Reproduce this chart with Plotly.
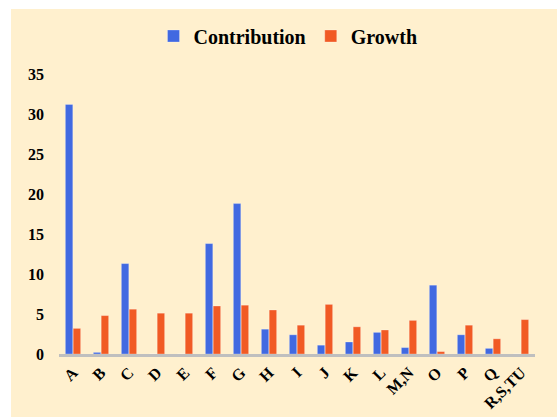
import plotly.graph_objects as go

categories = ["A", "B", "C", "D", "E", "F", "G", "H", "I", "J", "K", "L",
              "M,N", "O", "P", "Q", "R,S,TU"]
contribution = [31.2, 0.2, 11.3, 0.0, 0.0, 13.8, 18.8, 3.1, 2.4, 1.1, 1.5,
                2.7, 0.8, 8.6, 2.4, 0.7, 0.0]
growth = [3.2, 4.8, 5.6, 5.1, 5.1, 6.0, 6.1, 5.5, 3.6, 6.2, 3.4, 3.0,
          4.2, 0.3, 3.6, 1.9, 4.3]
y_ticks = [0, 5, 10, 15, 20, 25, 30, 35]

BLUE = "#4169E1"
ORANGE = "#F15A24"
BG = "#FFF0CE"
FONT = "Liberation Serif"

fig = go.Figure()
fig.add_trace(go.Bar(x=categories, y=contribution, name="Contribution",
                     marker=dict(color=BLUE, line=dict(color="rgba(255,255,255,0.35)", width=0.8))))
fig.add_trace(go.Bar(x=categories, y=growth, name="Growth",
                     marker=dict(color=ORANGE, line=dict(color="rgba(255,255,255,0.35)", width=0.8))))

W, H = 557, 417
ml, mr, mt, mb = 59, 22, 74, 63
pw = W - ml - mr
ph = H - mt - mb

fig.add_shape(type="rect", xref="paper", yref="paper",
              x0=(11 - ml) / pw, x1=(W - ml) / pw + 0.05,
              y0=-(mb + 20) / ph, y1=(H - mb - 9) / ph,
              fillcolor=BG, line=dict(width=0), layer="below")

fig.update_layout(
    width=W, height=H,
    margin=dict(l=ml, r=mr, t=mt, b=mb, autoexpand=False),
    paper_bgcolor="white",
    plot_bgcolor="rgba(0,0,0,0)",
    barmode="group",
    bargap=0.44,
    bargroupgap=0.05,
    font=dict(family=FONT, color="black"),
    legend=dict(orientation="h", x=0.5 - 9 / pw, xanchor="center", y=1.0 + (mt - 36) / ph,
                yanchor="middle", font=dict(size=20, family=FONT, weight="bold"),
                bgcolor="rgba(0,0,0,0)", itemwidth=30),
    xaxis=dict(tickangle=-45, tickfont=dict(size=16, family=FONT, weight="bold"),
               showline=True, linecolor="#BFBFBF", linewidth=3, ticks="",
               ticklabelstandoff=0, automargin=False,
               showgrid=False, zeroline=False),
    yaxis=dict(range=[0, 35], tickvals=y_ticks, showgrid=False, zeroline=False,
               showline=False, ticks="", ticklabelstandoff=14, automargin=False,
               tickfont=dict(size=16, family=FONT, weight="bold")),
)

fig.write_html("out.html")
